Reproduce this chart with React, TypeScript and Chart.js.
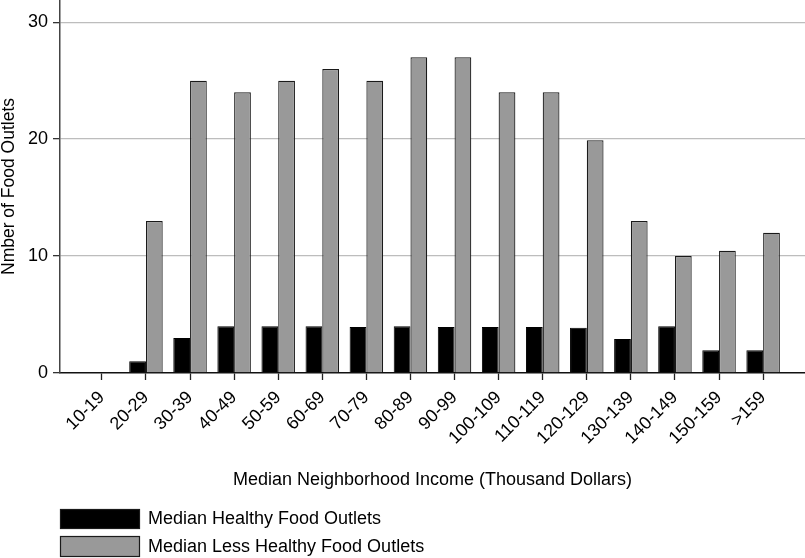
import React, { useEffect, useRef } from "react";
import { Chart, registerables } from "chart.js";

Chart.register(...registerables);

const categories = [
  "10-19", "20-29", "30-39", "40-49", "50-59", "60-69", "70-79", "80-89",
  "90-99", "100-109", "110-119", "120-129", "130-139", "140-149", "150-159", ">159",
];
const healthyValues = [0, 1, 3, 4, 4, 4, 3.93, 4, 3.93, 3.93, 3.93, 3.87, 2.9, 4, 1.95, 1.95];
const lessHealthyValues = [0, 13, 25, 24, 25, 26, 25, 27, 27, 24, 24, 19.9, 13, 10, 10.45, 12];
const yTickValues = [0, 10, 20, 30];
const seriesLabels = ["Median Healthy Food Outlets", "Median Less Healthy Food Outlets"];

const FONT = "'Liberation Sans', Arial, Helvetica, sans-serif";

const legendPlugin = {
  id: "stackedLegend",
  afterDraw(chart: any) {
    const ctx = chart.ctx;
    const rows = [
      { y: 509, h: 20 },
      { y: 536, h: 21 },
    ];
    ctx.save();
    chart.data.datasets.forEach((ds: any, i: number) => {
      const r = rows[i];
      ctx.fillStyle = ds.backgroundColor;
      ctx.fillRect(60, r.y, 80, r.h);
      ctx.lineWidth = 1.2;
      ctx.strokeStyle = "#1a1a1a";
      ctx.strokeRect(60.5, r.y + 0.5, 79, r.h - 1);
      ctx.fillStyle = "#000";
      ctx.font = `18px ${FONT}`;
      ctx.textBaseline = "middle";
      ctx.textAlign = "left";
      ctx.fillText(ds.label, 148, r.y + r.h / 2 + 0.5);
    });
    ctx.restore();
  },
};

export default function App() {
  const ref = useRef<HTMLCanvasElement>(null);
  useEffect(() => {
    const chart = new Chart(ref.current!, {
      type: "bar",
      data: {
        datasets: [
          {
            label: seriesLabels[0],
            data: healthyValues.map((v, i) => ({ x: i, y: v })),
            backgroundColor: "#000000",
            borderColor: "#000000",
            borderWidth: 1,
          },
          {
            label: seriesLabels[1],
            data: lessHealthyValues.map((v, i) => ({ x: i, y: v })),
            backgroundColor: "#999999",
            borderColor: "#1a1a1a",
            borderWidth: 1.2,
          },
        ],
      },
      options: {
        animation: false,
        responsive: true,
        maintainAspectRatio: false,
        layout: { padding: { top: 0, left: 0, right: 0, bottom: 58 } },
        datasets: { bar: { categoryPercentage: 0.76, barPercentage: 1 } },
        plugins: {
          legend: { display: false },
          tooltip: { enabled: false },
        },
        scales: {
          x: {
            type: "linear",
            min: -0.95,
            max: 15.95,
            offset: false,
            afterBuildTicks: (scale: any) => {
              scale.ticks = categories.map((_, i) => ({ value: i }));
            },
            afterFit: (scale: any) => {
              scale.height = 127;
              scale.paddingLeft = 0;
              scale.paddingRight = 0;
            },
            ticks: {
              autoSkip: false,
              maxRotation: 45,
              minRotation: 45,
              padding: 7,
              color: "#000",
              font: { family: FONT, size: 18 },
              callback: (v: any) => categories[Math.round(Number(v))] ?? "",
            },
            grid: {
              offset: false,
              drawOnChartArea: false,
              drawTicks: true,
              tickLength: 7,
              tickColor: "#222",
              tickWidth: 1.3,
            },
            border: { display: true, color: "#111", width: 1.5 },
            title: {
              display: true,
              text: "Median Neighborhood Income (Thousand Dollars)",
              color: "#000",
              font: { family: FONT, size: 18 },
              padding: { top: 0, bottom: 9 },
            },
          },
          y: {
            min: 0,
            max: 31.9,
            afterBuildTicks: (scale: any) => {
              scale.ticks = yTickValues.map((v) => ({ value: v }));
            },
            afterFit: (scale: any) => {
              scale.width = 60;
              scale.paddingTop = 0;
              scale.paddingBottom = 0;
            },
            ticks: {
              padding: 5,
              color: "#000",
              font: { family: FONT, size: 18 },
            },
            grid: {
              color: (c: any) => (c.tick && c.tick.value === 0 ? "rgba(0,0,0,0)" : "#bdbdbd"),
              lineWidth: 1.3,
              tickLength: 7,
              tickColor: "#333",
              tickWidth: 1.3,
            },
            border: { display: true, color: "#444", width: 1.5 },
            title: {
              display: true,
              text: "Nmber of Food Outlets",
              color: "#000",
              font: { family: FONT, size: 17.5, lineHeight: 1 },
              padding: { top: 0, bottom: 0 },
            },
          },
        },
      },
      plugins: [legendPlugin],
    } as any);
    return () => chart.destroy();
  }, []);

  return (
    <div style={{ position: "absolute", left: 0, top: 0, width: 805, height: 558 }}>
      <canvas ref={ref} />
    </div>
  );
}
